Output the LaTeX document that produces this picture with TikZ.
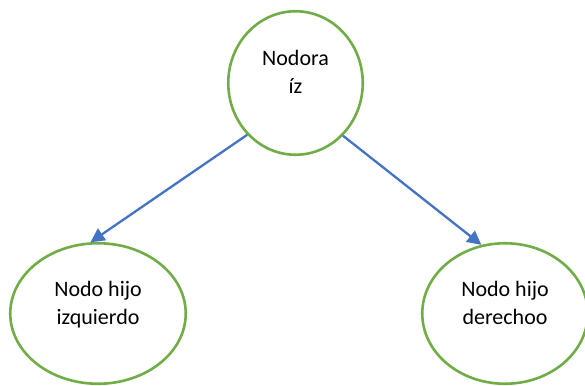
\documentclass[tikz,border=0pt]{standalone}
\usepackage{fontspec}
\setmainfont{Carlito}
\usetikzlibrary{shapes.geometric,arrows.meta}
\definecolor{treegreen}{HTML}{70AD47}
\definecolor{treeblue}{HTML}{4472C4}
\begin{document}
\begin{tikzpicture}[x=1pt,y=-1pt,
  treenode/.style={draw=treegreen, line width=2.6pt, ellipse, inner sep=0pt, fill=white},
  label text/.style={align=center, anchor=base, inner sep=0pt,
    font=\fontsize{22}{27.5}\selectfont},
  link/.style={draw=treeblue, line width=2.3pt, -{Triangle[length=14pt,width=14pt]}}]
  \useasboundingbox (0,0) rectangle (585,385);
  \clip (0,0) rectangle (585,385);
  % tree nodes
  \node[treenode, minimum width=134.5pt, minimum height=143.5pt] (root) at (295.5,83) {};
  \node[treenode, minimum width=175.5pt, minimum height=140.5pt] (left) at (98,313.5) {};
  \node[treenode, minimum width=165.5pt, minimum height=140.5pt] (right) at (505,313.5) {};
  % node texts (anchored at the baseline of the last line)
  \node[label text] (roottext) at (295.5,93) {Nodora\\íz};
  \node[label text] (lefttext) at (98,324) {Nodo hijo\\izquierdo};
  \node[label text] (righttext) at (505,324) {Nodo hijo\\derechoo};
  % links
  \draw[link] (root.227.6) -- (left.96.4);
  \draw[link] (root.312.4) -- (right.109.3);
\end{tikzpicture}
\end{document}
